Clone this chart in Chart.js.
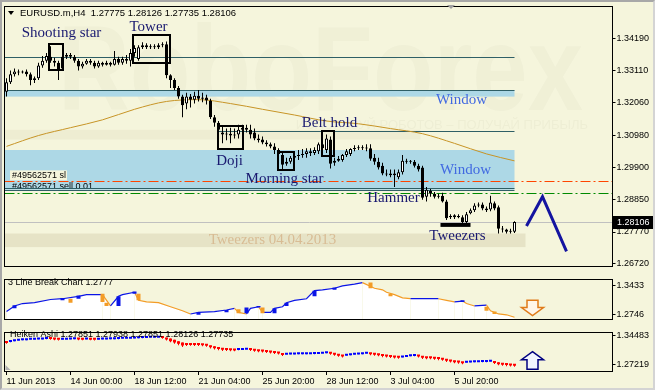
<!DOCTYPE html>
<html>
<head>
<meta charset="utf-8">
<title>EURUSD.m,H4</title>
<script src="https://cdn.jsdelivr.net/npm/chart.js@4.4.1/dist/chart.umd.min.js"></script>
<style>
  html, body { margin: 0; padding: 0; background: #f5f5dc; }
  #wrap { position: relative; width: 655px; height: 390px; overflow: hidden; background: #f5f5dc; }
  #wrap canvas { position: absolute; left: 0; }
  #frame { position: absolute; left: 0; top: 0; width: 655px; height: 390px; box-sizing: border-box;
           border: 2px solid #a8a8a8; border-right-color: #d4d4d4; border-bottom-color: #d4d4d4; pointer-events: none; }
</style>
</head>
<body>
<div id="wrap">
  <canvas id="main" width="655" height="273" style="top:0"></canvas>
  <canvas id="lbc" width="655" height="53" style="top:273px"></canvas>
  <canvas id="ha" width="655" height="64" style="top:326px"></canvas>
  <div id="frame"></div>
</div>
<script>
// EURUSD.m H4 candles
const open = [
  1.3242,1.3274,1.3300,1.3309,1.3306,1.3309,1.3300,1.3281,1.3287,1.3329,
  1.3345,1.3358,1.3345,1.3338,1.3319,1.3358,1.3364,1.3358,1.3345,1.3326,
  1.3335,1.3345,1.3338,1.3326,1.3338,1.3332,1.3338,1.3332,1.3351,1.3338,
  1.3351,1.3345,1.3371,1.3351,1.3390,1.3396,1.3390,1.3393,1.3390,1.3396,
  1.3400,1.3297,1.3281,1.3255,1.3226,1.3203,1.3226,1.3216,1.3229,1.3219,
  1.3223,1.3213,1.3158,1.3139,1.3107,1.3100,1.3103,1.3097,1.3100,1.3116,
  1.3123,1.3116,1.3107,1.3087,1.3084,1.3074,1.3068,1.3061,1.3049,1.3032,
  1.3003,1.3010,1.3023,1.3029,1.3032,1.3036,1.3045,1.3039,1.3045,1.3068,
  1.3049,1.3084,1.3007,1.3013,1.3016,1.3032,1.3036,1.3052,1.3055,1.3058,
  1.3055,1.3055,1.3023,1.3010,1.2997,1.2971,1.2971,1.2965,1.2959,1.2975,
  1.3013,1.3010,1.3010,1.2997,1.2991,1.2894,1.2913,1.2904,1.2897,1.2897,
  1.2878,1.2830,1.2833,1.2826,1.2826,1.2810,1.2839,1.2849,1.2865,1.2868,
  1.2855,1.2852,1.2872,1.2859,1.2788,1.2785,1.2778,1.27775
];
const high = [
  1.3287,1.3313,1.3319,1.3316,1.3313,1.3316,1.3306,1.3293,1.3338,1.3361,
  1.3371,1.3393,1.3355,1.3345,1.3364,1.3371,1.3371,1.3364,1.3351,1.3342,
  1.3351,1.3351,1.3345,1.3345,1.3342,1.3345,1.3342,1.3377,1.3358,1.3358,
  1.3364,1.3384,1.3396,1.3396,1.3406,1.3403,1.3400,1.3400,1.3403,1.3406,
  1.3409,1.3300,1.3287,1.3261,1.3232,1.3239,1.3235,1.3242,1.3248,1.3239,
  1.3232,1.3219,1.3165,1.3145,1.3126,1.3120,1.3123,1.3120,1.3133,1.3133,
  1.3133,1.3133,1.3120,1.3100,1.3094,1.3081,1.3074,1.3071,1.3055,1.3039,
  1.3023,1.3029,1.3042,1.3049,1.3052,1.3055,1.3055,1.3058,1.3074,1.3087,
  1.3100,1.3094,1.3023,1.3029,1.3036,1.3052,1.3055,1.3065,1.3065,1.3065,
  1.3068,1.3068,1.3036,1.3023,1.3007,1.2984,1.2984,1.2984,1.2984,1.3032,
  1.3020,1.3016,1.3016,1.3003,1.2997,1.2926,1.2920,1.2910,1.2904,1.2907,
  1.2884,1.2836,1.2836,1.2836,1.2833,1.2843,1.2855,1.2872,1.2875,1.2875,
  1.2862,1.2897,1.2878,1.2865,1.2797,1.2788,1.2788,1.28126
];
const low = [
  1.3226,1.3268,1.3293,1.3297,1.3303,1.3293,1.3264,1.3271,1.3281,1.3322,
  1.3338,1.3338,1.3326,1.3281,1.3313,1.3351,1.3351,1.3338,1.3313,1.3319,
  1.3332,1.3332,1.3319,1.3322,1.3326,1.3329,1.3326,1.3329,1.3332,1.3332,
  1.3335,1.3326,1.3358,1.3345,1.3384,1.3384,1.3384,1.3384,1.3384,1.3390,
  1.3287,1.3255,1.3248,1.3219,1.3158,1.3184,1.3190,1.3203,1.3210,1.3207,
  1.3200,1.3152,1.3126,1.3094,1.3071,1.3081,1.3071,1.3087,1.3087,1.3107,
  1.3107,1.3087,1.3081,1.3074,1.3068,1.3061,1.3055,1.3036,1.3029,1.2981,
  1.2997,1.3003,1.3016,1.3016,1.3023,1.3023,1.3029,1.3032,1.3036,1.3039,
  1.3039,1.2988,1.2997,1.3010,1.3010,1.3026,1.3029,1.3045,1.3049,1.3049,
  1.3045,1.3013,1.3000,1.2984,1.2965,1.2962,1.2959,1.2926,1.2952,1.2968,
  1.3003,1.3003,1.2991,1.2978,1.2884,1.2878,1.2894,1.2888,1.2888,1.2875,
  1.2817,1.2820,1.2820,1.2823,1.2807,1.2804,1.2836,1.2843,1.2859,1.2849,
  1.2843,1.2846,1.2849,1.2772,1.2775,1.2772,1.2772,1.27735
];
const close = [
  1.3274,1.3300,1.3309,1.3306,1.3309,1.3300,1.3281,1.3287,1.3329,1.3345,
  1.3361,1.3345,1.3338,1.3313,1.3358,1.3364,1.3358,1.3345,1.3326,1.3335,
  1.3345,1.3338,1.3326,1.3338,1.3332,1.3338,1.3332,1.3351,1.3338,1.3351,
  1.3345,1.3371,1.3387,1.3390,1.3396,1.3390,1.3393,1.3390,1.3396,1.3400,
  1.3297,1.3281,1.3255,1.3226,1.3197,1.3226,1.3216,1.3229,1.3219,1.3223,
  1.3213,1.3158,1.3139,1.3116,1.3100,1.3103,1.3097,1.3100,1.3116,1.3123,
  1.3116,1.3100,1.3087,1.3081,1.3074,1.3068,1.3061,1.3049,1.3036,1.3000,
  1.3010,1.3023,1.3029,1.3032,1.3036,1.3045,1.3039,1.3049,1.3068,1.3055,
  1.3087,1.3003,1.3013,1.3020,1.3032,1.3045,1.3052,1.3055,1.3058,1.3055,
  1.3054,1.3020,1.3010,1.2991,1.2971,1.2968,1.2965,1.2971,1.2975,1.3013,
  1.3010,1.3013,1.2997,1.2984,1.2891,1.2917,1.2904,1.2894,1.2894,1.2878,
  1.2823,1.2826,1.2826,1.2830,1.2810,1.2836,1.2849,1.2865,1.2868,1.2855,
  1.2849,1.2875,1.2855,1.2788,1.2785,1.2778,1.2781,1.28106
];

// moving average, read every 8 bars
const maIdx = [0, 8, 16, 24, 32, 40, 48, 56, 64, 72, 80, 88, 96, 104, 112, 120, 127];
const maVal = [1.3061, 1.3097, 1.3123, 1.3149, 1.3184, 1.3210, 1.3216, 1.3203, 1.3184,
               1.3165, 1.3145, 1.3136, 1.3120, 1.3103, 1.3071, 1.3036, 1.3013];

// forecast arrow drawn on the chart
const arrowIdx = [130, 134, 140];
const arrowVal = [1.2797, 1.2894, 1.2713];

// 3 Line Break subwindow
const lbIdx = [0,2,4,7,11,14,18,20,24,26,28,29,32,33,35,38,41,44,46,48,52,55,57,58,60,61,63,64,66,67,
               69,70,72,75,77,79,82,84,87,89,92,94,95,97,99,101,105,108,110,112,114,115,117,120,121,123,125,127];
const lbVal = [1.2820,1.2950,1.3006,1.3025,1.3099,1.3117,1.3173,1.3210,1.3210,1.2950,1.3173,1.3210,1.3266,1.3080,1.3043,
               1.3025,1.2932,1.2839,1.2765,1.2802,1.2820,1.2857,1.2895,1.2802,1.2765,1.2895,1.2932,1.2802,1.2802,1.2895,
               1.2932,1.3025,1.3080,1.3117,1.3303,1.3322,1.3359,1.3414,1.3452,1.3489,1.3359,1.3322,1.3266,1.3210,1.3136,
               1.3117,1.3117,1.3117,1.3080,1.3043,1.3062,1.3006,1.2950,1.2969,1.2839,1.2765,1.2746,1.2690];
const brickIdx = [2,14,16,18,24,25,28,32,33,48,55,58,60,63,64,67,70,77,82,91,96,114,120,122];
const brickLo = [1.2895,1.3080,1.3025,1.3117,1.3043,1.2950,1.2950,1.3229,1.3080,1.2746,1.2802,1.2783,
                 1.2783,1.2913,1.2783,1.2783,1.2950,1.3173,1.3322,1.3359,1.3173,1.3043,1.2839,1.2765];
const brickHi = [1.2969,1.3136,1.3117,1.3192,1.3229,1.3025,1.3173,1.3284,1.3229,1.2802,1.2857,1.2876,
                 1.2913,1.2950,1.2913,1.2895,1.3025,1.3303,1.3377,1.3489,1.3229,1.3080,1.2932,1.2820];
const brickUp = [1,1,0,1,0,0,1,1,0,1,1,0,1,1,0,1,1,1,1,0,0,1,0,0];

// Heiken Ashi subwindow
const haOpen = [
  1.3316,1.3294,1.3316,1.3327,1.3338,1.3338,1.3349,1.3349,1.3360,1.3360,
  1.3371,1.3382,1.3371,1.3360,1.3349,1.3355,1.3360,1.3363,1.3371,1.3365,
  1.3358,1.3363,1.3358,1.3352,1.3356,1.3360,1.3363,1.3366,1.3370,1.3374,
  1.3377,1.3380,1.3384,1.3389,1.3394,1.3398,1.3401,1.3403,1.3405,1.3407,
  1.3402,1.3381,1.3349,1.3315,1.3283,1.3245,1.3232,1.3227,1.3224,1.3221,
  1.3220,1.3210,1.3188,1.3164,1.3141,1.3120,1.3108,1.3099,1.3092,1.3096,
  1.3102,1.3107,1.3100,1.3089,1.3077,1.3066,1.3056,1.3045,1.3032,1.3018,
  1.2978,1.2980,1.2982,1.2985,1.2986,1.2988,1.2990,1.2992,1.2996,1.3003,
  1.3014,1.3030,1.3015,1.2995,1.2972,1.2950,1.2962,1.2973,1.2980,1.2986,
  1.2998,1.3012,1.3001,1.2988,1.2974,1.2958,1.2944,1.2932,1.2918,1.2908,
  1.2921,1.2935,1.2945,1.2948,1.2939,1.2920,1.2905,1.2895,1.2885,1.2875,
  1.2862,1.2842,1.2823,1.2806,1.2793,1.2776,1.2780,1.2785,1.2790,1.2793,
  1.2795,1.2797,1.2801,1.2786,1.2763,1.2744,1.2730,1.2718
];
const haClose = [
  1.3272,1.3316,1.3338,1.3338,1.3349,1.3349,1.3360,1.3360,1.3371,1.3382,
  1.3382,1.3371,1.3360,1.3349,1.3360,1.3366,1.3371,1.3371,1.3360,1.3355,
  1.3366,1.3355,1.3349,1.3360,1.3363,1.3366,1.3369,1.3375,1.3378,1.3380,
  1.3382,1.3388,1.3393,1.3398,1.3402,1.3404,1.3406,1.3407,1.3409,1.3398,
  1.3360,1.3316,1.3280,1.3250,1.3206,1.3220,1.3222,1.3220,1.3218,1.3214,
  1.3200,1.3165,1.3140,1.3118,1.3100,1.3096,1.3090,1.3085,1.3100,1.3108,
  1.3112,1.3094,1.3078,1.3066,1.3055,1.3045,1.3035,1.3020,1.3005,1.2970,
  1.2985,1.2988,1.2990,1.2990,1.2992,1.2994,1.2995,1.3000,1.3010,1.3025,
  1.3040,1.3000,1.2975,1.2950,1.2930,1.2975,1.2984,1.2988,1.2992,1.3010,
  1.3025,1.2990,1.2975,1.2960,1.2942,1.2930,1.2920,1.2905,1.2898,1.2935,
  1.2950,1.2955,1.2952,1.2930,1.2900,1.2890,1.2885,1.2876,1.2866,1.2850,
  1.2822,1.2805,1.2790,1.2780,1.2760,1.2785,1.2790,1.2795,1.2796,1.2797,
  1.2800,1.2805,1.2770,1.2740,1.2725,1.2716,1.2705,1.2700
];
const haLow = [
  1.3250,1.3290,1.3311,1.3322,1.3333,1.3333,1.3344,1.3344,1.3355,1.3355,
  1.3366,1.3350,1.3340,1.3330,1.3345,1.3350,1.3355,1.3358,1.3340,1.3338,
  1.3353,1.3338,1.3330,1.3347,1.3351,1.3355,1.3358,1.3361,1.3365,1.3369,
  1.3372,1.3375,1.3379,1.3384,1.3389,1.3393,1.3396,1.3398,1.3400,1.3380,
  1.3330,1.3290,1.3250,1.3215,1.3170,1.3195,1.3200,1.3195,1.3196,1.3190,
  1.3175,1.3135,1.3110,1.3090,1.3070,1.3070,1.3065,1.3062,1.3088,1.3092,
  1.3098,1.3070,1.3050,1.3040,1.3030,1.3020,1.3010,1.2995,1.2980,1.2945,
  1.2974,1.2976,1.2978,1.2981,1.2982,1.2984,1.2986,1.2988,1.2992,1.2998,
  1.3009,1.2975,1.2950,1.2925,1.2905,1.2945,1.2957,1.2968,1.2975,1.2981,
  1.2993,1.2965,1.2950,1.2935,1.2915,1.2905,1.2895,1.2880,1.2875,1.2903,
  1.2916,1.2930,1.2940,1.2905,1.2870,1.2865,1.2860,1.2850,1.2840,1.2825,
  1.2795,1.2778,1.2765,1.2752,1.2735,1.2771,1.2775,1.2780,1.2785,1.2788,
  1.2790,1.2792,1.2745,1.2712,1.2698,1.2690,1.2680,1.2672
];

const tickLabels = ['11 Jun 2013', '14 Jun 00:00', '18 Jun 12:00', '21 Jun 04:00',
                    '25 Jun 20:00', '28 Jun 12:00', '3 Jul 04:00', '5 Jul 20:00'];
const tickIdx = [0, 16, 32, 48, 64, 80, 96, 112];
const mainTicks = [1.34190, 1.33110, 1.32060, 1.30980, 1.29900, 1.28850, 1.27770, 1.26720];
const lbTicks = [1.3433, 1.2746];
const haTicks = [1.34483, 1.27219];
const lastPrice = 1.28106;

// drawings on the price window (bar index / price units)
const zones = [
  { from: -0.5, to: 103.5, top: 1.3116, bottom: 1.3084, color: '#eeedd2' },
  { from: -0.5, to: 129.75, top: 1.2772, bottom: 1.2727, color: '#e6e3c6' },
  { from: -0.5, to: 127, top: 1.3248, bottom: 1.3226, color: '#add8e6' },
  { from: -0.5, to: 127, top: 1.3049, bottom: 1.2917, color: '#add8e6' }
];
const hLines = [
  { p: 1.3358, from: -0.5, to: 127, color: '#2f5f66' },
  { p: 1.3248, from: -0.5, to: 127, color: '#2f5f66' },
  { p: 1.3113, from: 52.75, to: 127, color: '#2f5f66' },
  { p: 1.2923, from: -0.5, to: 127, color: '#2f5f66' },
  { p: 1.2917, from: -0.5, to: 127, color: '#2f5f66' },
  { p: 1.2945, from: -0.5, to: 152, color: '#ff4500', dash: [10, 3, 2, 3] },
  { p: 1.2907, from: -0.5, to: 152, color: '#008a00', dash: [10, 3, 2, 3] },
  { p: lastPrice, from: -0.5, to: 152, color: '#c0c0c0' }
];
const boxes = [
  { from: 10.5, to: 14, top: 1.3400, bottom: 1.3313 },
  { from: 31.5, to: 40.75, top: 1.3432, bottom: 1.3338 },
  { from: 52.75, to: 59, top: 1.3129, bottom: 1.3052 },
  { from: 67.75, to: 71.75, top: 1.3042, bottom: 1.2981 },
  { from: 78.75, to: 81.75, top: 1.3113, bottom: 1.3029 }
];
const tweezBar = { from: 108.5, to: 116, top: 1.2807, bottom: 1.2794 };
const notes = [
  { t: 'Shooting star', i: 13.75, p: 1.3438, c: '#191970' },
  { t: 'Tower', i: 35.5, p: 1.3458, c: '#191970' },
  { t: 'Belt hold', i: 80.75, p: 1.3139, c: '#191970' },
  { t: 'Doji', i: 55.75, p: 1.3013, c: '#191970' },
  { t: 'Morning star', i: 69.5, p: 1.2952, c: '#191970' },
  { t: 'Hammer', i: 96.75, p: 1.2888, c: '#191970' },
  { t: 'Tweezers', i: 112.75, p: 1.2762, c: '#191970' },
  { t: 'Window', i: 113.75, p: 1.3216, c: '#4169e1' },
  { t: 'Window', i: 114.75, p: 1.2981, c: '#4169e1' },
  { t: 'Tweezers 04.04.2013', i: 66.5, p: 1.2749, c: '#d8bc94' }
];

const N_SLOTS = 152;
const slots = Array.from({ length: N_SLOTS }, (_, i) => i);
const points = (idx, vals) => idx.map((k, j) => ({ x: k, y: vals[j] }));
function sparse(idx, vals) {
  const a = new Array(N_SLOTS).fill(null);
  idx.forEach((k, j) => { a[k] = vals[j]; });
  return a;
}

Chart.defaults.font.family = '"Liberation Sans", Arial, sans-serif';
Chart.defaults.font.size = 9;
Chart.defaults.color = '#000';

const SERIF = '"Liberation Serif", "Times New Roman", serif';
const BLUE = '#0a14e6', ORANGE = '#f39c26';

function yAxis(min, max, ticks, digits) {
  return {
    position: 'right', min, max,
    afterFit: s => { s.width = 42.5; },
    afterBuildTicks: s => { s.ticks = ticks.map(v => ({ value: v })); },
    ticks: { callback: v => Number(v).toFixed(digits), padding: 1, color: '#000' },
    grid: { drawOnChartArea: false, drawTicks: true, tickLength: 3, color: '#000' },
    border: { display: true, color: '#000' }
  };
}
const hiddenX = { display: false, offset: true };
const baseOpts = {
  responsive: false, animation: false, events: [],
  plugins: { legend: { display: false }, tooltip: { enabled: false } }
};

function frame(chart) {
  const a = chart.chartArea, ctx = chart.ctx;
  ctx.save();
  ctx.strokeStyle = '#000'; ctx.lineWidth = 1;
  ctx.strokeRect(Math.floor(a.left) + 0.5, Math.floor(a.top) + 0.5,
                 Math.floor(a.right) - Math.floor(a.left), Math.floor(a.bottom) - Math.floor(a.top));
  ctx.restore();
}

const mainOverlay = {
  id: 'mainOverlay',
  beforeDatasetsDraw(chart) {
    const ctx = chart.ctx, a = chart.chartArea;
    const X = v => chart.scales.x.getPixelForValue(v);
    const Y = v => chart.scales.y.getPixelForValue(v);
    ctx.save();
    ctx.beginPath(); ctx.rect(a.left, a.top, a.right - a.left, a.bottom - a.top); ctx.clip();

    // watermark
    ctx.font = 'bold 120px "Liberation Sans", Arial, sans-serif';
    const w = ctx.measureText('RoboForex').width;
    ctx.save();
    ctx.translate(58, 110); ctx.scale(525 / w, 1);
    ctx.fillStyle = 'rgba(60,60,0,0.022)';
    ctx.textBaseline = 'alphabetic'; ctx.textAlign = 'left';
    ctx.fillText('RoboForex', 0, 0);
    ctx.restore();
    ctx.font = '13px "Liberation Sans", Arial, sans-serif';
    ctx.fillStyle = 'rgba(60,60,0,0.035)';
    ctx.textAlign = 'right'; ctx.textBaseline = 'middle';
    ctx.fillText('ИСПОЛЬЗУЙ РОБОТОВ – ПОЛУЧАЙ ПРИБЫЛЬ', 588, 125);

    zones.forEach(z => {
      ctx.fillStyle = z.color;
      ctx.fillRect(X(z.from), Y(z.top), X(z.to) - X(z.from), Y(z.bottom) - Y(z.top));
    });

    // order labels
    ctx.font = '9px "Liberation Sans", Arial, sans-serif';
    ctx.textAlign = 'left'; ctx.textBaseline = 'middle';
    ctx.fillStyle = '#000';
    ctx.fillText('#49562571 sell 0.01', 12, Y(1.2907) - 6);
    ctx.fillStyle = '#f5f5dc';
    ctx.fillRect(10, Y(1.2945) - 11, 57, 10);
    ctx.fillStyle = '#000';
    ctx.fillText('#49562571 sl', 12, Y(1.2945) - 6);

    hLines.forEach(l => {
      const y = Math.round(Y(l.p)) + 0.5;
      ctx.strokeStyle = l.color; ctx.lineWidth = 1;
      ctx.setLineDash(l.dash || []);
      ctx.beginPath(); ctx.moveTo(X(l.from), y); ctx.lineTo(X(l.to), y); ctx.stroke();
    });
    ctx.setLineDash([]);

    ctx.font = '15px ' + SERIF;
    ctx.textAlign = 'center';
    const tw = notes[notes.length - 1];
    ctx.fillStyle = tw.c;
    ctx.fillText(tw.t, X(tw.i), Y(tw.p));
    ctx.restore();
  },
  afterDatasetsDraw(chart) {
    const ctx = chart.ctx;
    const X = v => chart.scales.x.getPixelForValue(v);
    const Y = v => chart.scales.y.getPixelForValue(v);
    ctx.save();
    ctx.strokeStyle = '#000'; ctx.lineWidth = 2;
    boxes.forEach(b => {
      ctx.strokeRect(Math.round(X(b.from)), Math.round(Y(b.top)),
                     Math.round(X(b.to) - X(b.from)), Math.round(Y(b.bottom) - Y(b.top)));
    });
    ctx.fillStyle = '#000';
    ctx.fillRect(X(tweezBar.from), Y(tweezBar.top), X(tweezBar.to) - X(tweezBar.from), Y(tweezBar.bottom) - Y(tweezBar.top));

    ctx.font = '15px ' + SERIF;
    ctx.textAlign = 'center'; ctx.textBaseline = 'middle';
    notes.slice(0, -1).forEach(n => {
      ctx.fillStyle = n.c;
      ctx.fillText(n.t, X(n.i), Y(n.p));
    });
    ctx.restore();
    frame(chart);
  },
  afterDraw(chart) {
    const ctx = chart.ctx, a = chart.chartArea;
    const Y = v => chart.scales.y.getPixelForValue(v);
    ctx.save();
    // title
    ctx.fillStyle = '#000';
    ctx.beginPath(); ctx.moveTo(8, 11); ctx.lineTo(14, 11); ctx.lineTo(11, 15); ctx.closePath(); ctx.fill();
    ctx.font = '9.5px "Liberation Sans", Arial, sans-serif';
    ctx.textAlign = 'left'; ctx.textBaseline = 'middle';
    ctx.fillText('EURUSD.m,H4  1.27775 1.28126 1.27735 1.28106', 20, 13);
    // shift marker
    ctx.fillStyle = '#a0a0a0';
    ctx.beginPath(); ctx.moveTo(447, 5); ctx.lineTo(455, 5); ctx.lineTo(451, 9); ctx.closePath(); ctx.fill();
    // last price tag
    const y = Math.round(Y(lastPrice));
    ctx.fillStyle = '#000';
    ctx.fillRect(Math.ceil(a.right), y - 6, 42, 13);
    ctx.fillStyle = '#fff';
    ctx.font = '9px "Liberation Sans", Arial, sans-serif';
    ctx.fillText(lastPrice.toFixed(5), Math.ceil(a.right) + 4, y + 0.5);
    ctx.restore();
  }
};

new Chart(document.getElementById('main'), {
  type: 'bar',
  data: {
    labels: slots,
    datasets: [
      { type: 'line', data: points(maIdx, maVal), borderColor: '#c79426', borderWidth: 1,
        pointRadius: 0, cubicInterpolationMode: 'monotone', order: 5 },
      { data: low.map((l, i) => [l, high[i]]), backgroundColor: '#000', barThickness: 1,
        grouped: false, inflateAmount: 0, order: 4 },
      { data: open.map((o, i) => [o, close[i]]),
        backgroundColor: close.map((c, i) => c >= open[i] ? '#fff' : '#000'),
        borderColor: '#000', borderWidth: 1, borderSkipped: false, barThickness: 3,
        grouped: false, inflateAmount: 0, minBarLength: 1, order: 3 },
      { type: 'line', data: points(arrowIdx, arrowVal), borderColor: '#1414a0', borderWidth: 3,
        pointRadius: 0, order: 1 }
    ]
  },
  options: Object.assign({}, baseOpts, {
    layout: { padding: { left: 4.5, top: 4, right: 0, bottom: 1 } },
    scales: { x: hiddenX, y: yAxis(1.26623, 1.35252, mainTicks, 5) }
  }),
  plugins: [mainOverlay]
});

// 3 Line Break window
new Chart(document.getElementById('lbc'), {
  type: 'bar',
  data: {
    labels: slots,
    datasets: [
      { type: 'line', data: points(lbIdx, lbVal), fill: 'start', backgroundColor: '#fff',
        borderWidth: 1.2, pointRadius: 0, order: 2,
        segment: { borderColor: c => c.p1.parsed.y < c.p0.parsed.y ? ORANGE : BLUE } },
      { data: sparse(brickIdx, brickIdx.map((_, j) => [brickLo[j], brickHi[j]])),
        backgroundColor: c => brickUp[brickIdx.indexOf(c.index)] ? BLUE : ORANGE,
        barThickness: 4, grouped: false, inflateAmount: 0, order: 1 }
    ]
  },
  options: Object.assign({}, baseOpts, {
    layout: { padding: { left: 4.5, top: 1, right: 0, bottom: 2 } },
    scales: { x: hiddenX, y: yAxis(1.2635, 1.3563, lbTicks, 4) }
  }),
  plugins: [{
    id: 'lbOverlay',
    afterDraw(chart) {
      const ctx = chart.ctx;
      const X = v => chart.scales.x.getPixelForValue(v);
      const Y = v => chart.scales.y.getPixelForValue(v);
      frame(chart);
      ctx.save();
      ctx.font = '9px "Liberation Sans", Arial, sans-serif';
      ctx.fillStyle = '#000'; ctx.textBaseline = 'middle';
      ctx.fillText('3 Line Break Chart 1.2777', 8, 10);
      // hollow down arrow
      const cx = X(131.5), top = Y(1.3080), tip = Y(1.2728);
      ctx.beginPath();
      ctx.moveTo(cx - 5.5, top); ctx.lineTo(cx + 5.5, top); ctx.lineTo(cx + 5.5, tip - 8);
      ctx.lineTo(cx + 11, tip - 8); ctx.lineTo(cx, tip); ctx.lineTo(cx - 11, tip - 8);
      ctx.lineTo(cx - 5.5, tip - 8); ctx.closePath();
      ctx.fillStyle = '#fff6ea'; ctx.fill();
      ctx.strokeStyle = '#e07b1a'; ctx.lineWidth = 1.5; ctx.stroke();
      ctx.restore();
    }
  }]
});

// Heiken Ashi window
const haColor = haClose.map((c, i) => c >= haOpen[i] ? '#0000ff' : '#ff0000');
new Chart(document.getElementById('ha'), {
  type: 'bar',
  data: {
    labels: slots,
    datasets: [
      { data: haLow.map((l, i) => [l, haOpen[i]]), backgroundColor: haColor,
        barThickness: 1, grouped: false, inflateAmount: 0, order: 2 },
      { data: haOpen.map((o, i) => [o, haClose[i]]), backgroundColor: haColor,
        barThickness: 3, grouped: false, inflateAmount: 0, minBarLength: 2, order: 1 }
    ]
  },
  options: Object.assign({}, baseOpts, {
    layout: { padding: { left: 4.5, top: 1, right: 0, bottom: 2 } },
    scales: {
      x: {
        offset: true,
        afterFit: s => { s.height = 17; },
        afterBuildTicks: s => { s.ticks = tickIdx.map(v => ({ value: v })); },
        ticks: { autoSkip: false, maxRotation: 0, align: 'start', padding: 1, color: '#000',
                 callback: (v, k) => tickLabels[k] },
        grid: { drawOnChartArea: false, drawTicks: true, tickLength: 4, color: '#000', offset: false },
        border: { display: false }
      },
      y: yAxis(1.25678, 1.35363, haTicks, 5)
    }
  }),
  plugins: [{
    id: 'haOverlay',
    afterDraw(chart) {
      const ctx = chart.ctx, a = chart.chartArea;
      const X = v => chart.scales.x.getPixelForValue(v);
      const Y = v => chart.scales.y.getPixelForValue(v);
      frame(chart);
      ctx.save();
      ctx.font = '9px "Liberation Sans", Arial, sans-serif';
      ctx.fillStyle = '#000'; ctx.textBaseline = 'middle';
      ctx.fillText('Heiken Ashi 1.27851 1.27938 1.27851 1.28126 1.27735', 10, 9);
      // hollow up arrow
      const cx = X(131.5), tip = Y(1.3052), bot = Y(1.2612);
      ctx.beginPath();
      ctx.moveTo(cx, tip); ctx.lineTo(cx + 11, tip + 8); ctx.lineTo(cx + 5.5, tip + 8);
      ctx.lineTo(cx + 5.5, bot); ctx.lineTo(cx - 5.5, bot); ctx.lineTo(cx - 5.5, tip + 8);
      ctx.lineTo(cx - 11, tip + 8); ctx.closePath();
      ctx.fillStyle = '#f2f5ff'; ctx.fill();
      ctx.strokeStyle = '#000080'; ctx.lineWidth = 1.5; ctx.stroke();
      // corner marker
      ctx.fillStyle = '#b0b0b0';
      ctx.beginPath(); ctx.moveTo(a.left + 1, a.bottom - 1); ctx.lineTo(a.left + 1, a.bottom - 6);
      ctx.lineTo(a.left + 6, a.bottom - 1); ctx.closePath(); ctx.fill();
      ctx.restore();
    }
  }]
});
</script>
</body>
</html>
